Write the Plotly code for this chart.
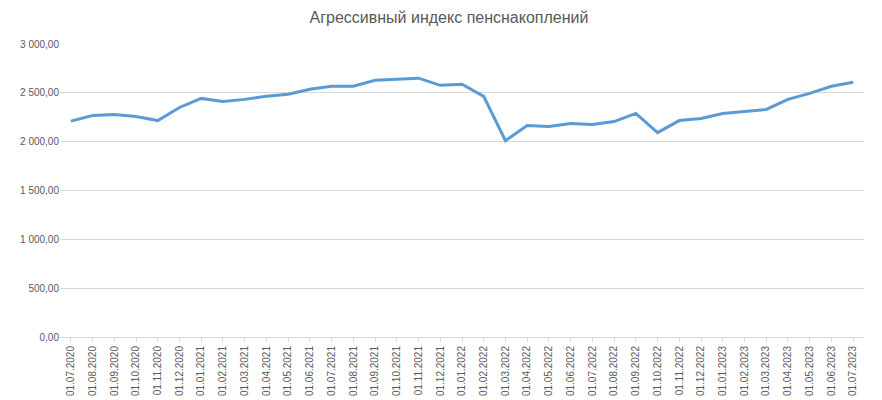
import plotly.graph_objects as go

dates = [f"01.{m:02d}.{y}" for y, m in
         [(2020, m) for m in range(7, 13)] + [(2021, m) for m in range(1, 13)] +
         [(2022, m) for m in range(1, 13)] + [(2023, m) for m in range(1, 8)]]
values = [2210, 2268, 2278, 2258, 2216, 2350, 2443, 2412, 2433, 2464, 2485, 2536,
          2567, 2567, 2629, 2639, 2650, 2577, 2588, 2464, 2010, 2165, 2155, 2186,
          2175, 2206, 2289, 2093, 2216, 2237, 2289, 2309, 2330, 2433, 2495, 2567, 2608]

fig = go.Figure(go.Scatter(x=dates, y=values, mode="lines",
                           line=dict(color="#5B9BD5", width=3)))
fig.update_layout(
    width=882, height=400, paper_bgcolor="white", plot_bgcolor="white",
    margin=dict(l=48, r=26, t=36, b=63), separators=", ",
    title=dict(text="Агрессивный индекс пенснакоплений", x=0.5, y=0.99,
               xanchor="center", font=dict(family="Liberation Sans", size=16, color="#595959")),
    font=dict(family="Liberation Sans", size=10, color="#595959"),
    showlegend=False,
)
fig.update_xaxes(type="category", range=[-0.5, len(dates) - 0.5], tickangle=-90,
                 showgrid=False, showline=True, linecolor="#D9D9D9", ticks="outside",
                 tickcolor="#D9D9D9", ticklen=4)
fig.update_yaxes(range=[0, 3000], dtick=500, tickformat=",.2f", gridcolor="#D9D9D9",
                 zeroline=False, showline=False)
fig.write_html("out.html")
